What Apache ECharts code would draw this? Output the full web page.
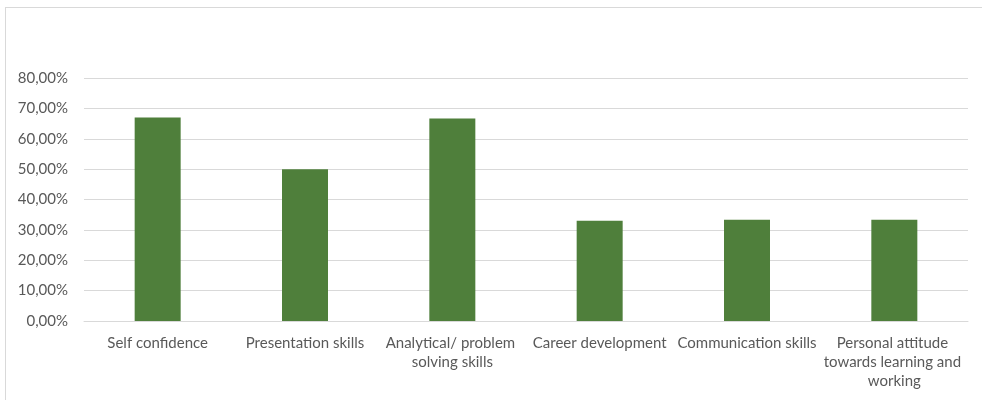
<!DOCTYPE html>
<html>
<head>
<meta charset="utf-8">
<script src="https://cdn.jsdelivr.net/npm/echarts@6/dist/echarts.min.js"></script>
<style>
  html, body { margin: 0; padding: 0; background: #fff; }
  .frame { position: absolute; left: 5px; top: 7px; right: 0; bottom: 0;
           border-left: 1px solid #d9d9d9; border-top: 1px solid #d9d9d9; }
  #chart { position: absolute; left: 0; top: 0; width: 982px; height: 400px; }
</style>
</head>
<body>
<div class="frame"></div>
<div id="chart"></div>
<script>
const categories = [
  "Self confidence",
  "Presentation skills",
  "Analytical/ problem solving skills",
  "Career development",
  "Communication skills",
  "Personal attitude towards learning and working"
];
const values = [0.67, 0.50, 0.667, 0.33, 0.333, 0.333];
const yTicks = { min: 0, max: 0.8, interval: 0.1 };

const chart = echarts.init(document.getElementById("chart"));
const font = "Lato, 'Open Sans', sans-serif";

chart.setOption({
  animation: false,
  grid: { left: 84, right: 14, top: 78, bottom: 79 },
  xAxis: {
    type: "category",
    data: categories,
    axisLine: { lineStyle: { color: "#d9d9d9" } },
    axisTick: { show: false },
    axisLabel: {
      interval: 0,
      margin: 13,
      color: "#595959",
      fontFamily: font,
      fontSize: 15,
      lineHeight: 19,
      width: 150,
      overflow: "break"
    }
  },
  yAxis: {
    type: "value",
    min: yTicks.min,
    max: yTicks.max,
    interval: yTicks.interval,
    axisLine: { show: false },
    axisTick: { show: false },
    splitLine: { lineStyle: { color: "#d9d9d9" } },
    axisLabel: {
      margin: 16,
      color: "#595959",
      fontFamily: font,
      fontSize: 15,
      formatter: v => (v * 100).toFixed(2).replace(".", ",") + "%"
    }
  },
  series: [{
    type: "bar",
    data: values,
    barWidth: 46,
    itemStyle: { color: "#4f7f3b" }
  }]
});
</script>
</body>
</html>
